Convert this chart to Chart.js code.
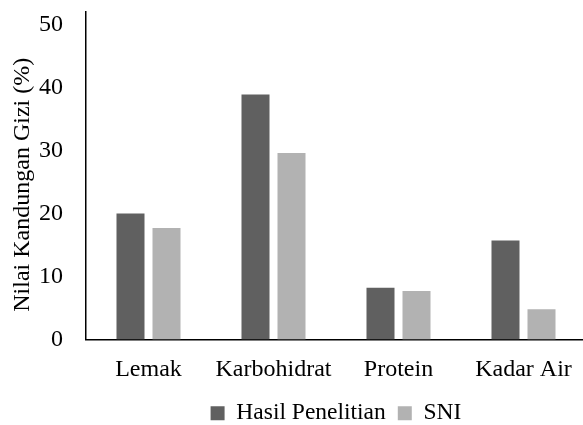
<!DOCTYPE html>
<html>
<head>
<meta charset="utf-8">
<script src="https://cdn.jsdelivr.net/npm/chart.js@4"></script>
<style>
  html, body { margin: 0; padding: 0; background: #fff; overflow: hidden; }
  #wrap { width: 583px; height: 425px; overflow: hidden; }
</style>
</head>
<body>
<div id="wrap"><canvas id="c" width="586" height="435"></canvas></div>
<script>
// Nutrient categories and their measured vs. standard values (%)
const categories = ['Lemak', 'Karbohidrat', 'Protein', 'Kadar Air'];
const hasilPenelitian = [20.0, 38.9, 8.2, 15.7];
const sni = [17.7, 29.6, 7.7, 4.8];
const yTicks = [0, 10, 20, 30, 40, 50];

const serif = 'Liberation Serif, Times New Roman, serif';

new Chart(document.getElementById('c'), {
  type: 'bar',
  data: {
    labels: categories,
    datasets: [
      { label: 'Hasil Penelitian', data: hasilPenelitian, backgroundColor: '#606060' },
      { label: 'SNI', data: sni, backgroundColor: '#b2b2b2' }
    ]
  },
  options: {
    responsive: false,
    animation: false,
    events: [],
    layout: { padding: { top: 12, right: 0, bottom: 0, left: 0 } },
    datasets: {
      bar: { categoryPercentage: 0.576, barPercentage: 0.778 }
    },
    scales: {
      x: {
        grid: { display: false, drawTicks: false },
        border: { display: true, color: '#000', width: 1.5 },
        ticks: { color: '#000', font: { family: serif, size: 24 }, padding: 16, maxRotation: 0 },
        afterFit: (s) => { s.height = 50; s.paddingLeft = 0; s.paddingRight = 0; }
      },
      y: {
        min: 0,
        max: 52,
        afterBuildTicks: (scale) => { scale.ticks = yTicks.map(v => ({ value: v })); },
        grid: { display: false, drawTicks: false },
        border: { display: true, color: '#000', width: 1.5 },
        ticks: { color: '#000', font: { family: serif, size: 24 }, padding: 23, includeBounds: false },
        title: {
          display: true,
          // trailing no-break spaces nudge the rotated title slightly downward
          text: 'Nilai Kandungan Gizi (%)\u00a0\u00a0\u00a0',
          color: '#000',
          font: { family: serif, size: 24 },
          padding: { top: 8, bottom: 0 }
        },
        afterFit: (s) => { s.width = 86; s.paddingTop = 0; s.paddingBottom = 0; }
      }
    },
    plugins: {
      tooltip: { enabled: false },
      legend: {
        position: 'bottom',
        fullSize: false,
        labels: {
          color: '#000',
          font: { family: serif, size: 23.5 },
          boxWidth: 14,
          boxHeight: 14,
          padding: 12
        }
      }
    }
  }
});
</script>
</body>
</html>
